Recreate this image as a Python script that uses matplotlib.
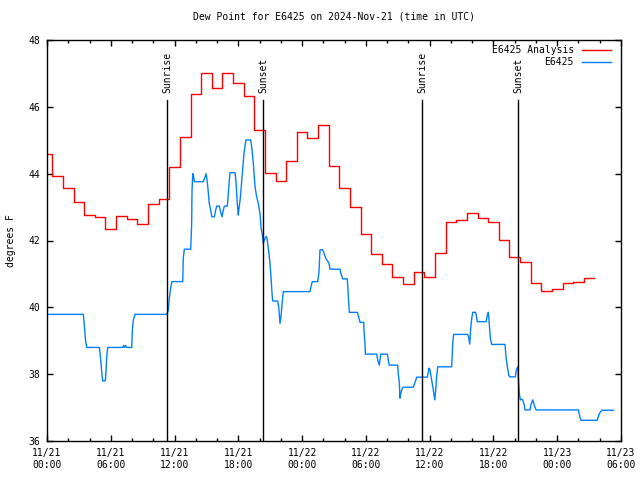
import numpy as np
import matplotlib
matplotlib.use("Agg")
import matplotlib.pyplot as plt

plt.rcParams['font.family'] = ['DejaVu Sans Mono']
plt.rcParams['font.size'] = 7

# hours since 2024-11-21 00:00 UTC
red_vals = [44.6, 43.93, 43.56, 43.14, 42.76, 42.69, 42.33, 42.73, 42.64, 42.49,
            43.09, 43.23, 44.2, 45.09, 46.38, 47.0, 46.57, 47.0, 46.72, 46.32,
            45.3, 44.03, 43.78, 44.38, 45.26, 45.06, 45.46, 44.23, 43.56, 43.0,
            42.19, 41.59, 41.29, 40.92, 40.70, 41.05, 40.92, 41.62, 42.56, 42.61,
            42.81, 42.66, 42.54, 42.01, 41.5, 41.35, 40.72, 40.49, 40.54, 40.72,
            40.77, 40.87]
red_hours = list(range(len(red_vals)))
red_end = 51.5

blue_hours = [0, 3.42, 3.55, 3.64, 3.74, 4.92, 4.99, 5.08, 5.17, 5.24,
              5.49, 5.55, 5.62, 5.71, 7.12, 7.20, 7.29, 7.39, 7.48, 7.97,
              8.03, 8.12, 8.28, 11.29, 11.41, 11.51, 11.64, 11.76, 12.77, 12.82,
              12.92, 13.52, 13.61, 13.64, 13.71, 13.80, 13.86, 14.71, 14.87, 14.96,
              15.08, 15.18, 15.27, 15.40, 15.50, 15.74, 15.87, 15.97, 16.21, 16.34,
              16.46, 16.59, 16.68, 16.96, 17.06, 17.15, 17.22, 17.69, 17.78, 17.90,
              18.00, 18.06, 18.16, 18.22, 18.32, 18.41, 18.53, 18.66, 18.72, 19.16,
              19.26, 19.41, 19.57, 19.73, 19.88, 20.04, 20.13, 20.23, 20.35, 20.44,
              20.58, 20.67, 20.76, 20.89, 20.98, 21.07, 21.17, 21.23, 21.70, 21.80,
              21.92, 22.02, 22.14, 22.23, 24.74, 24.84, 24.96, 25.47, 25.59, 25.68,
              25.94, 26.06, 26.22, 26.37, 26.53, 26.63, 27.57, 27.66, 27.82, 28.25,
              28.38, 28.44, 29.19, 29.33, 29.45, 29.80, 29.82, 29.92, 29.95, 31.02,
              31.11, 31.26, 31.40, 32.02, 32.11, 32.20, 32.99, 33.05, 33.14, 33.21,
              33.28, 33.43, 33.52, 34.46, 34.62, 34.78, 35.78, 35.94, 36.03, 36.19,
              36.34, 36.48, 36.57, 36.66, 36.76, 38.07, 38.17, 38.26, 39.58, 39.67,
              39.77, 39.86, 39.96, 40.05, 40.33, 40.48, 41.30, 41.42, 41.52, 41.61,
              41.71, 41.84, 43.09, 43.18, 43.31, 43.44, 43.53, 44.06, 44.15, 44.28,
              44.38, 44.43, 44.53, 44.66, 44.75, 44.88, 44.97, 45.44, 45.54, 45.70,
              45.82, 45.91, 46.01, 49.99, 50.15, 50.24, 51.77, 51.93, 52.09, 52.21,
              53.28]
blue_vals = [39.79, 39.79, 39.32, 38.97, 38.80, 38.80, 38.62, 38.33, 37.97, 37.80,
             37.80, 38.08, 38.52, 38.80, 38.80, 38.86, 38.80, 38.86, 38.80, 38.80,
             39.32, 39.62, 39.79, 39.79, 39.92, 40.27, 40.60, 40.77, 40.77, 41.47,
             41.74, 41.74, 42.50, 43.46, 44.00, 43.90, 43.76, 43.76, 43.90, 44.00,
             43.76, 43.40, 43.10, 42.91, 42.71, 42.71, 42.91, 43.03, 43.03, 42.85,
             42.71, 42.91, 43.03, 43.03, 43.40, 43.80, 44.03, 44.03, 43.76, 43.10,
             42.76, 42.96, 43.20, 43.40, 43.80, 44.20, 44.60, 44.90, 45.01, 45.01,
             44.80, 44.31, 43.61, 43.30, 43.11, 42.80, 42.40, 42.21, 41.92, 42.01,
             42.11, 42.11, 41.92, 41.60, 41.30, 40.92, 40.42, 40.19, 40.19, 40.00,
             39.52, 39.75, 40.20, 40.47, 40.47, 40.62, 40.77, 40.77, 41.07, 41.72,
             41.72, 41.62, 41.47, 41.40, 41.32, 41.14, 41.14, 41.00, 40.85, 40.85,
             40.20, 39.85, 39.85, 39.70, 39.55, 39.55, 39.32, 38.87, 38.60, 38.60,
             38.42, 38.27, 38.60, 38.60, 38.42, 38.27, 38.27, 38.00, 37.77, 37.28,
             37.43, 37.58, 37.61, 37.61, 37.75, 37.91, 37.91, 38.18, 38.13, 37.83,
             37.53, 37.23, 37.53, 37.93, 38.22, 38.22, 38.92, 39.19, 39.19, 39.10,
             38.90, 39.37, 39.67, 39.85, 39.85, 39.57, 39.57, 39.75, 39.85, 39.50,
             39.07, 38.89, 38.89, 38.52, 38.22, 37.97, 37.92, 37.92, 38.12, 38.22,
             37.67, 37.43, 37.23, 37.25, 37.23, 37.10, 36.93, 36.93, 37.10, 37.23,
             37.10, 37.00, 36.93, 36.93, 36.70, 36.62, 36.62, 36.80, 36.88, 36.92,
             36.92]

sunrise = [11.29, 35.28]
sunset = [20.35, 44.34]

tick_hours = [0, 6, 12, 18, 24, 30, 36, 42, 48, 54]
tick_labels = ["11/21\n00:00", "11/21\n06:00", "11/21\n12:00", "11/21\n18:00",
               "11/22\n00:00", "11/22\n06:00", "11/22\n12:00", "11/22\n18:00",
               "11/23\n00:00", "11/23\n06:00"]

fig = plt.figure(figsize=(6.4, 4.8), dpi=100)
ax = fig.add_axes([47/640, 39/480, 574/640, 401/480])

ax.plot(red_hours + [red_end], red_vals + [red_vals[-1]],
        color='#ff0000', lw=1.0, drawstyle='steps-mid')
ax.plot(blue_hours, blue_vals, color='#0080ff', lw=1.0)

line_top = 46.2
for t in sunrise:
    ax.plot([t, t], [36, line_top], color='black', lw=1.0)
    ax.text(t, line_top + 0.2, "Sunrise", rotation=90, ha='center', va='bottom')
for t in sunset:
    ax.plot([t, t], [36, line_top], color='black', lw=1.0)
    ax.text(t, line_top + 0.2, "Sunset", rotation=90, ha='center', va='bottom')

ax.set_xlim(0, 54)
ax.set_ylim(36, 48)
ax.set_xticks(tick_hours)
ax.set_xticklabels(tick_labels)
ax.set_xticks(np.arange(0, 55, 2), minor=True)
ax.set_yticks(np.arange(36, 49, 2))
ax.tick_params(which='both', direction='in', top=True, right=True, width=1.0)
ax.tick_params(which='major', length=4.5, pad=5)
ax.tick_params(which='minor', length=2.5)
for s in ax.spines.values():
    s.set_linewidth(1.0)

ax.set_ylabel("degrees F", labelpad=9)
ax.set_title("Dew Point for E6425 on 2024-Nov-21 (time in UTC)", fontsize=7, pad=15)

# legend, gnuplot style (text right of key, right aligned)
ax.text(0.918, 0.975, "E6425 Analysis", transform=ax.transAxes, ha='right', va='center')
ax.plot([0.932, 0.982], [0.976, 0.976], transform=ax.transAxes, color='#ff0000', lw=1.0)
ax.text(0.918, 0.944, "E6425", transform=ax.transAxes, ha='right', va='center')
ax.plot([0.932, 0.982], [0.945, 0.945], transform=ax.transAxes, color='#0080ff', lw=1.0)

fig.savefig("out.png", dpi=100)
